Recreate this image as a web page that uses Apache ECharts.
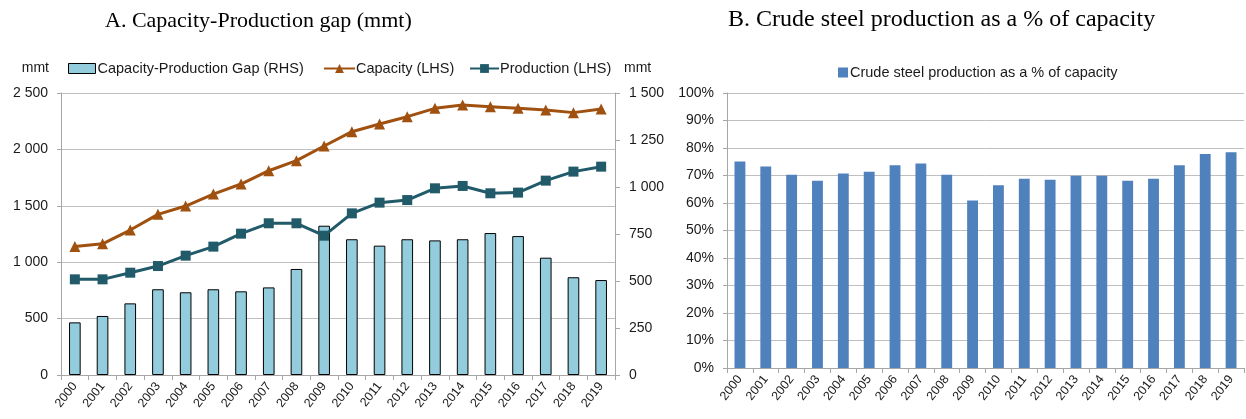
<!DOCTYPE html>
<html>
<head>
<meta charset="utf-8">
<script src="https://cdn.jsdelivr.net/npm/echarts@6/dist/echarts.min.js"></script>
<style>
html,body{margin:0;padding:0;background:#fff;}
#chart{width:1246px;height:419px;}
</style>
</head>
<body>
<div id="chart"></div>
<script>
const years = ['2000','2001','2002','2003','2004','2005','2006','2007','2008','2009','2010','2011','2012','2013','2014','2015','2016','2017','2018','2019'];
const capacity = [1140,1163,1285,1424,1498,1604,1693,1811,1900,2030,2157,2225,2290,2364,2394,2379,2364,2349,2326,2358];
const production = [848,848,907,966,1058,1138,1253,1345,1345,1235,1433,1528,1551,1655,1676,1611,1617,1723,1803,1847];
const gap = [280,314,381,456,440,456,445,466,564,794,722,688,722,716,722,755,739,624,520,505];
const utilisation = [75.1,73.3,70.3,68.1,70.7,71.4,73.7,74.4,70.3,60.9,66.5,68.8,68.5,69.9,69.9,68.1,68.8,73.7,77.8,78.5];
const leftTicks = {min:0, max:2500, interval:500};
const rightTicks = {min:0, max:1500, interval:250};
const pctTicks = {min:0, max:100, interval:10};

const FONT = 'Liberation Sans';
const gridC = '#BFBFBF';
const axisC = '#A6A6A6';
const txt = '#1a1a1a';
function spaced(v){ return v >= 1000 ? Math.floor(v/1000) + ' ' + String(v % 1000).padStart(3,'0') : String(v); }

const chart = echarts.init(document.getElementById('chart'));
const catAxis = (gi) => ({
  type:'category', gridIndex:gi, data:years, boundaryGap:true,
  axisLine:{lineStyle:{color:axisC}},
  axisTick:{show:true, length:5, lineStyle:{color:axisC}},
  axisLabel:{rotate:52, margin:9, fontFamily:FONT, fontSize:12.5, color:txt}
});
const legText = {fontFamily:FONT, fontSize:14.5, color:txt};
chart.setOption({
  animation:false,
  textStyle:{fontFamily:FONT},
  title:[
    {text:'A. Capacity-Production gap (mmt)', left:105, top:10, padding:0,
     textStyle:{fontFamily:'Liberation Serif', fontSize:22, fontWeight:'normal', color:'#000'}},
    {text:'B. Crude steel production as a % of capacity', left:728, top:8, padding:0,
     textStyle:{fontFamily:'Liberation Serif', fontSize:24, fontWeight:'normal', color:'#000'}}
  ],
  legend:[
    {data:[{name:'Capacity-Production Gap (RHS)', icon:'rect'}], left:68, top:61, padding:0, itemWidth:27, itemHeight:10,
     itemStyle:{borderColor:'#000', borderWidth:1},
     textStyle:Object.assign({padding:[0,0,0,-3]}, legText)},
    {data:['Capacity (LHS)'], left:323, top:61, padding:0, itemWidth:31, itemHeight:11,
     textStyle:Object.assign({padding:[0,0,0,-4]}, legText)},
    {data:['Production (LHS)'], left:469, top:61, padding:0, itemWidth:29, itemHeight:11,
     textStyle:Object.assign({padding:[0,0,0,-4]}, legText)},
    {data:[{name:'Crude steel production as a % of capacity', icon:'rect'}], left:838, top:65, padding:0, itemWidth:10, itemHeight:10,
     textStyle:Object.assign({padding:[0,0,0,-3]}, legText)}
  ],
  grid:[
    {left:61, right:631, top:93, bottom:44},
    {left:727, right:2, top:93, bottom:51}
  ],
  xAxis:[catAxis(0), catAxis(1)],
  yAxis:[
    {type:'value', gridIndex:0, min:leftTicks.min, max:leftTicks.max, interval:leftTicks.interval,
     name:'mmt', nameLocation:'end', nameGap:18,
     nameTextStyle:{fontFamily:FONT, fontSize:14, color:txt, align:'right', padding:[0,12,0,0]},
     axisLine:{show:true, lineStyle:{color:axisC}},
     axisTick:{show:true, length:4, lineStyle:{color:axisC}},
     splitLine:{show:true, lineStyle:{color:gridC}},
     axisLabel:{margin:13, fontFamily:FONT, fontSize:14, color:txt, formatter:spaced}},
    {type:'value', gridIndex:0, position:'right', min:rightTicks.min, max:rightTicks.max, interval:rightTicks.interval,
     name:'mmt', nameLocation:'end', nameGap:18,
     nameTextStyle:{fontFamily:FONT, fontSize:14, color:txt, align:'left', padding:[0,0,0,9]},
     axisLine:{show:true, lineStyle:{color:axisC}},
     axisTick:{show:true, length:5, lineStyle:{color:axisC}},
     splitLine:{show:false},
     axisLabel:{margin:14, fontFamily:FONT, fontSize:14, color:txt, formatter:spaced}},
    {type:'value', gridIndex:1, min:pctTicks.min, max:pctTicks.max, interval:pctTicks.interval,
     axisLine:{show:true, lineStyle:{color:axisC}},
     axisTick:{show:true, length:4, lineStyle:{color:axisC}},
     splitLine:{show:true, lineStyle:{color:gridC}},
     axisLabel:{margin:13, fontFamily:FONT, fontSize:14, color:txt, formatter:'{value}%'}}
  ],
  series:[
    {name:'Capacity-Production Gap (RHS)', type:'bar', xAxisIndex:0, yAxisIndex:1, data:gap, barWidth:'42%',
     itemStyle:{color:'#93CDDD', borderColor:'#000', borderWidth:1}},
    {name:'Capacity (LHS)', type:'line', xAxisIndex:0, yAxisIndex:0, data:capacity,
     symbol:'triangle', symbolSize:11, lineStyle:{color:'#A0500F', width:3}, itemStyle:{color:'#A0500F'}},
    {name:'Production (LHS)', type:'line', xAxisIndex:0, yAxisIndex:0, data:production,
     symbol:'rect', symbolSize:10, lineStyle:{color:'#215A69', width:3}, itemStyle:{color:'#215A69'}},
    {name:'Crude steel production as a % of capacity', type:'bar', xAxisIndex:1, yAxisIndex:2, data:utilisation, barWidth:'42%',
     itemStyle:{color:'#4F81BD'}}
  ]
});
</script>
</body>
</html>
